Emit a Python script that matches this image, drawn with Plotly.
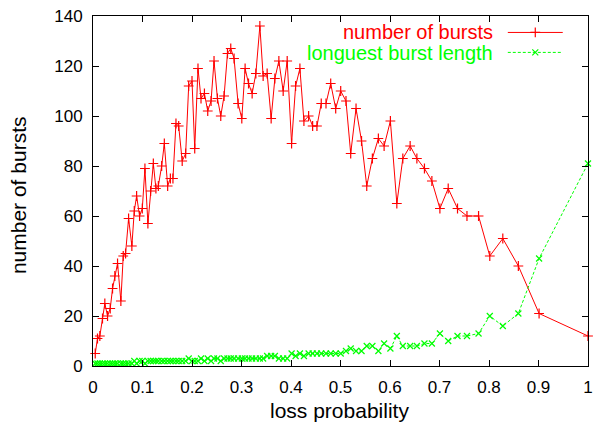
import plotly.graph_objects as go

# Loss probability used for each run (shared by both series)
loss_probability = [
    0.0045, 0.0091, 0.0138, 0.0192, 0.0239, 0.0294, 0.0348, 0.0395, 0.0441, 0.0496,
    0.0563, 0.0611, 0.0658, 0.0719, 0.0785, 0.0834, 0.0881, 0.0941, 0.0996, 0.1049,
    0.1109, 0.1164, 0.1219, 0.1271, 0.1320, 0.1387, 0.1441, 0.1508, 0.1563, 0.1615,
    0.1676, 0.1731, 0.1802, 0.1872, 0.1933, 0.2000, 0.2055, 0.2121, 0.2182, 0.2251,
    0.2318, 0.2385, 0.2445, 0.2514, 0.2581, 0.2648, 0.2717, 0.2783, 0.2850, 0.2931,
    0.3006, 0.3073, 0.3142, 0.3215, 0.3290, 0.3371, 0.3437, 0.3518, 0.3599, 0.3674,
    0.3755, 0.3842, 0.3923, 0.4012, 0.4093, 0.4180, 0.4261, 0.4356, 0.4437, 0.4524,
    0.4611, 0.4707, 0.4802, 0.4903, 0.5004, 0.5111, 0.5206, 0.5314, 0.5425, 0.5530,
    0.5644, 0.5765, 0.5881, 0.6008, 0.6138, 0.6259, 0.6407, 0.6543, 0.6696, 0.6846,
    0.7008, 0.7176, 0.7364, 0.7555, 0.7789, 0.8016, 0.8279, 0.8593, 0.9012, 1.0000,
]

number_of_bursts = [
    5, 11, 12, 19, 25, 20, 23, 31, 36, 41,
    26, 44, 45, 59, 48, 62, 68, 60, 63, 79,
    57, 70, 81, 71, 72, 80, 89, 72, 75, 75,
    97, 96, 82, 85, 112, 114, 87, 119, 107, 109,
    102, 106, 122, 107, 100, 108, 125, 127, 123, 105,
    99, 119, 113, 109, 117, 136, 116, 117, 99, 115,
    122, 110, 122, 89, 112, 119, 98, 100, 96, 96,
    105, 105, 113, 103, 110, 106, 85, 103, 90, 72,
    83, 91, 88, 98, 65, 83, 88, 83, 79, 74,
    63, 71, 63, 60, 60, 44, 51, 40, 21, 12,
]

longest_burst_length = [
    1, 1, 1, 1, 1, 1, 1, 1, 1, 1,
    1, 1, 1, 1, 1, 2, 1, 2, 2, 1,
    2, 2, 2, 2, 2, 2, 2, 2, 2, 2,
    2, 2, 2, 2, 3, 2, 2, 2, 3, 2,
    3, 2, 3, 3, 2, 3, 3, 3, 3, 3,
    3, 3, 3, 3, 3, 3, 3, 4, 4, 4,
    3, 3, 3, 5, 4, 5, 4, 5, 5, 5,
    5, 5, 5, 5, 5, 6, 7, 6, 6, 8,
    8, 6, 9, 7, 12, 8, 8, 8, 9, 9,
    13, 10, 12, 12, 13, 20, 16, 21, 43, 81,
]

x_tick_values = [0, 0.1, 0.2, 0.3, 0.4, 0.5, 0.6, 0.7, 0.8, 0.9, 1]
x_tick_labels = ["0", "0.1", "0.2", "0.3", "0.4", "0.5", "0.6", "0.7", "0.8", "0.9", "1"]
y_tick_values = [0, 20, 40, 60, 80, 100, 120, 140]

series_names = ["number of bursts", "longuest burst length"]
RED = "#ff0000"
GREEN = "#00ff00"
FONT = "Liberation Sans, Arial, Helvetica, sans-serif"

fig = go.Figure()

fig.add_trace(go.Scatter(
    x=loss_probability, y=number_of_bursts, mode="lines+markers",
    line=dict(color=RED, width=1),
    marker=dict(symbol="cross-thin", size=7, color=RED, line=dict(color=RED, width=1.2)),
    showlegend=False, cliponaxis=False,
))
fig.add_trace(go.Scatter(
    x=loss_probability, y=longest_burst_length, mode="lines+markers",
    line=dict(color=GREEN, width=1, dash="3px,2px"),
    marker=dict(symbol="x-thin", size=6, color=GREEN, line=dict(color=GREEN, width=1.2)),
    showlegend=False, cliponaxis=False,
))

# Key drawn on an overlay axis spanning the plot area (0..1 in both directions)
key_line_rows = [0.953, 0.896]
key_text_rows = [0.9557, 0.8943]
key_styles = [
    (RED, "solid", "cross-thin", 7),
    (GREEN, "3px,2px", "x-thin", 6),
]
for line_y, text_y, name, (col, dash, sym, size) in zip(
        key_line_rows, key_text_rows, series_names, key_styles):
    fig.add_trace(go.Scatter(
        x=[0.838, 0.949], y=[line_y, line_y], mode="lines",
        line=dict(color=col, width=1, dash=dash),
        xaxis="x2", yaxis="y2", showlegend=False, hoverinfo="skip",
    ))
    fig.add_trace(go.Scatter(
        x=[0.8935], y=[line_y], mode="markers",
        marker=dict(symbol=sym, size=size, color=col, line=dict(color=col, width=1.2)),
        xaxis="x2", yaxis="y2", showlegend=False, hoverinfo="skip",
    ))
    fig.add_annotation(
        xref="paper", yref="paper", x=0.8107, y=text_y, xanchor="right", yanchor="middle",
        text=name, showarrow=False, borderpad=0,
        font=dict(family=FONT, size=20, color=col),
    )

axis_common = dict(
    showline=True, linecolor="black", linewidth=1, mirror="ticks",
    ticks="inside", ticklen=6, tickwidth=1, tickcolor="black",
    showgrid=False, zeroline=False, automargin=False,
    tickfont=dict(family=FONT, size=17, color="black"),
)

fig.update_layout(
    width=599, height=433,
    margin=dict(l=93, r=11, t=16, b=67, autoexpand=False),
    paper_bgcolor="white", plot_bgcolor="white",
    xaxis=dict(range=[0, 1], tickvals=x_tick_values, ticktext=x_tick_labels,
               ticklabelstandoff=6, **axis_common),
    yaxis=dict(range=[0, 140], tickvals=y_tick_values, ticklabelstandoff=6, **axis_common),
    xaxis2=dict(range=[0, 1], overlaying="x", visible=False),
    yaxis2=dict(range=[0, 1], overlaying="y", visible=False),
    showlegend=False,
)

fig.add_annotation(
    xref="paper", yref="paper", x=0.497, y=-0.126, xanchor="center", yanchor="middle",
    text="loss probability", showarrow=False, font=dict(family=FONT, size=21, color="black"),
)
fig.add_annotation(
    xref="paper", yref="paper", x=-0.149, y=0.489, xanchor="center", yanchor="middle",
    text="number of bursts", textangle=-90, showarrow=False,
    font=dict(family=FONT, size=21, color="black"),
)

fig.write_html("out.html")
